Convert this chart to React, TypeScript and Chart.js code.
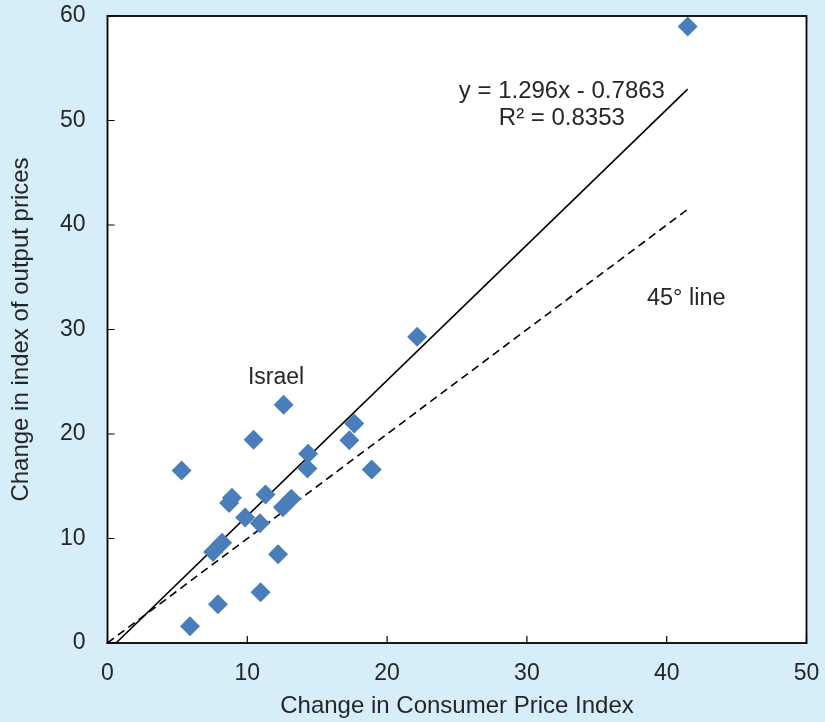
import React, { useEffect, useRef } from "react";
import { Chart, registerables } from "chart.js";

Chart.register(...registerables);

// Change in Consumer Price Index (x) vs change in index of output prices (y)
const cpiChange = [41.5, 22.15, 12.6, 10.45, 5.3, 17.65, 17.3, 14.35, 14.3, 18.9, 8.9, 8.7, 11.3, 13.15, 12.55, 9.85, 10.9, 8.2, 7.55, 12.2, 10.95, 7.9, 5.9];
const outputChange = [59.0, 29.3, 22.8, 19.45, 16.5, 21.0, 19.4, 18.1, 16.7, 16.6, 13.9, 13.4, 14.2, 13.8, 13.0, 12.0, 11.45, 9.6, 8.7, 8.5, 4.85, 3.7, 1.6];

// Linear trend: y = 1.296x - 0.7863 (endpoints)
const trendX = [0.61, 41.5];
const trendY = [0, 53.0];

// 45-degree line (endpoints)
const diagX = [0, 41.5];
const diagY = [0, 41.5];

const xTicks = [0, 10, 20, 30, 40, 50];
const yTicks = [0, 10, 20, 30, 40, 50, 60];

const annotations = [
  { text: "y = 1.296x - 0.7863", x: 32.5, y: 52.75, size: 24 },
  { text: "R² = 0.8353", x: 32.5, y: 50.2, size: 24 },
  { text: "45° line", x: 41.4, y: 33.0, size: 23.5 },
  { text: "Israel", x: 12.06, y: 25.4, size: 23 },
];

const FONT = '"Liberation Sans", Arial, sans-serif';
const TEXT = "#262626";
const BG = "#d5eef9";

const framePlugin = {
  id: "frame",
  beforeDraw(chart: any) {
    const { ctx, chartArea } = chart;
    ctx.save();
    ctx.fillStyle = BG;
    ctx.fillRect(0, 0, chart.width, chart.height);
    ctx.fillStyle = "#ffffff";
    ctx.fillRect(chartArea.left, chartArea.top, chartArea.right - chartArea.left, chartArea.bottom - chartArea.top);
    ctx.restore();
  },
  afterDraw(chart: any) {
    const { ctx, chartArea, scales } = chart;
    const xs = scales.x;
    const ys = scales.y;
    ctx.save();
    ctx.strokeStyle = "#000000";
    ctx.lineWidth = 1.8;
    ctx.strokeRect(chartArea.left, chartArea.top, chartArea.right - chartArea.left, chartArea.bottom - chartArea.top);
    ctx.lineWidth = 1.2;
    ctx.beginPath();
    xTicks.forEach((v) => {
      const px = xs.getPixelForValue(v);
      ctx.moveTo(px, chartArea.bottom + 1);
      ctx.lineTo(px, chartArea.bottom - 7);
    });
    yTicks.forEach((v) => {
      const py = ys.getPixelForValue(v);
      ctx.moveTo(chartArea.left - 1, py);
      ctx.lineTo(chartArea.left + 7, py);
    });
    ctx.stroke();
    ctx.fillStyle = TEXT;
    ctx.textAlign = "center";
    ctx.textBaseline = "middle";
    annotations.forEach((a) => {
      ctx.font = `${a.size}px ${FONT}`;
      ctx.fillText(a.text, xs.getPixelForValue(a.x), ys.getPixelForValue(a.y));
    });
    ctx.restore();
  },
};

export default function App() {
  const ref = useRef<HTMLCanvasElement | null>(null);
  useEffect(() => {
    if (!ref.current) return;
    const chart = new Chart(ref.current, {
      type: "scatter",
      data: {
        datasets: [
          {
            label: "Countries",
            data: cpiChange.map((x, i) => ({ x, y: outputChange[i] })),
            pointStyle: "rectRot",
            pointRadius: 10,
            pointHoverRadius: 10,
            backgroundColor: "#4a7ebb",
            borderColor: "#4a7ebb",
            borderWidth: 0,
            order: 1,
          },
          {
            label: "Trend",
            data: trendX.map((x, i) => ({ x, y: trendY[i] })),
            showLine: true,
            pointRadius: 0,
            borderColor: "#000000",
            borderWidth: 1.6,
            order: 2,
          },
          {
            label: "45° line",
            data: diagX.map((x, i) => ({ x, y: diagY[i] })),
            showLine: true,
            pointRadius: 0,
            borderColor: "#000000",
            borderWidth: 1.6,
            borderDash: [8, 5],
            order: 3,
          },
        ],
      },
      options: {
        animation: false,
        responsive: false,
        maintainAspectRatio: false,
        layout: { padding: { top: 16, right: 18.5, bottom: 0, left: 0 } },
        plugins: {
          legend: { display: false },
          tooltip: { enabled: false },
        },
        scales: {
          x: {
            type: "linear",
            min: 0,
            max: 50,
            afterFit: (s: any) => {
              s.height = 79;
              s.paddingLeft = 0;
              s.paddingRight = 0;
            },
            afterBuildTicks: (s: any) => {
              s.ticks = xTicks.map((v) => ({ value: v }));
            },
            grid: { display: false, drawTicks: false },
            border: { display: false },
            ticks: {
              color: TEXT,
              font: { family: FONT, size: 23 },
              padding: 17,
              maxRotation: 0,
            },
            title: {
              display: true,
              text: "Change in Consumer Price Index",
              color: TEXT,
              font: { family: FONT, size: 24 },
              padding: { top: 0, bottom: 1 },
            },
          },
          y: {
            type: "linear",
            min: 0,
            max: 60,
            afterFit: (s: any) => {
              s.width = 107.5;
              s.paddingTop = 0;
              s.paddingBottom = 0;
            },
            afterBuildTicks: (s: any) => {
              s.ticks = yTicks.map((v) => ({ value: v }));
            },
            grid: { display: false, drawTicks: false },
            border: { display: false },
            ticks: {
              color: TEXT,
              font: { family: FONT, size: 23 },
              padding: 22,
            },
            title: {
              display: true,
              text: "Change in index of output prices",
              color: TEXT,
              font: { family: FONT, size: 24 },
              padding: { top: 7, bottom: 0 },
            },
          },
        },
      },
      plugins: [framePlugin],
    });
    return () => chart.destroy();
  }, []);

  return (
    <div style={{ position: "absolute", left: 0, top: 0, width: 825, height: 722, background: BG }}>
      <canvas ref={ref} width={825} height={722} style={{ display: "block" }} />
    </div>
  );
}
